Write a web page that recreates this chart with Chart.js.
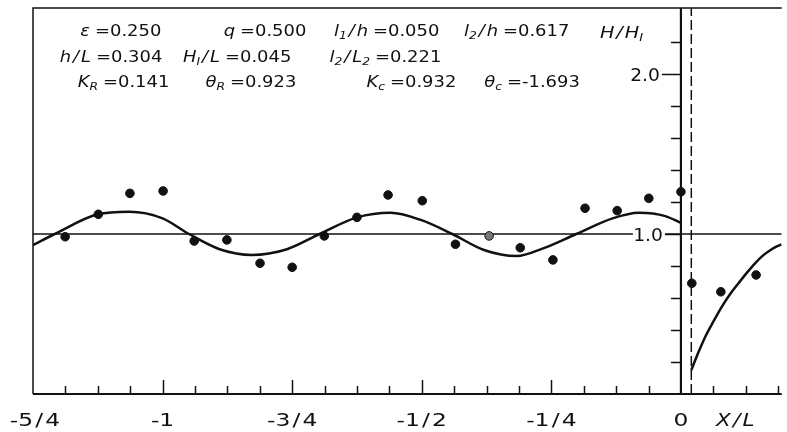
<!DOCTYPE html>
<html>
<head>
<meta charset="utf-8">
<script src="https://cdn.jsdelivr.net/npm/chart.js@4"></script>
<style>
  body { margin: 0; background: #fff; }
</style>
</head>
<body>
<canvas id="myChart" width="787" height="432"></canvas>
<script>
// measured points H/HI vs X/L
const pointX = [-1.188, -1.124, -1.063, -0.999, -0.939, -0.876, -0.812, -0.750, -0.688, -0.625, -0.565, -0.499,
                -0.435, -0.370, -0.310, -0.247, -0.185, -0.123, -0.062, 0.0, 0.021, 0.077, 0.145];
const pointY = [0.983, 1.123, 1.254, 1.269, 0.956, 0.963, 0.817, 0.792, 0.988, 1.104, 1.244, 1.208,
                0.936, 0.988, 0.914, 0.838, 1.161, 1.146, 1.223, 1.264, 0.692, 0.639, 0.744];

// theory curve, reflection side (x <= 0)
const curve1X = [-1.25, -1.208, -1.125, -1.064, -1.0, -0.949, -0.89, -0.828, -0.76, -0.697, -0.625, -0.56,
                 -0.502, -0.441, -0.38, -0.317, -0.266, -0.202, -0.132, -0.081, -0.03, 0.0];
const curve1Y = [0.931, 1.0, 1.123, 1.139, 1.098, 1.0, 0.905, 0.869, 0.905, 1.0, 1.104, 1.133,
                 1.088, 1.0, 0.9, 0.862, 0.91, 1.0, 1.098, 1.133, 1.112, 1.069];

// theory curve, transmission side (x > 0)
const curve2X = [0.02, 0.035, 0.047, 0.063, 0.079, 0.095, 0.111, 0.127, 0.143, 0.158, 0.173, 0.185, 0.194];
const curve2Y = [0.15, 0.27, 0.358, 0.455, 0.546, 0.625, 0.692, 0.757, 0.817, 0.865, 0.9, 0.922, 0.935];

const xMin = -1.25, xMax = 0.1944, yMin = 0, yMax = 2.4125;
const gateX = 0.02;

const xTickValues = [-1.25, -1, -0.75, -0.5, -0.25, 0];
const xTickLabels = ['-5/4', '-1', '-3/4', '-1/2', '-1/4', '0'];
const yTickValues = [1.0, 2.0];
const yTickLabels = ['1.0', '2.0'];

const paramNames = ['ε', 'q', 'l_1/h', 'l_2/h', 'h/L', 'H_I/L', 'l_2/L_2', 'K_R', 'θ_R', 'K_c', 'θ_c'];
const paramValues = ['0.250', '0.500', '0.050', '0.617', '0.304', '0.045', '0.221', '0.141', '0.923', '0.932', '-1.693'];

const toXY = (xs, ys) => xs.map((x, i) => ({x: x, y: ys[i]}));

function runs(str, italic) {
    let out = [];
    for (let i = 0; i < str.length; i++) {
        if (str[i] === '_') { out.push({t: str[i + 1], sub: true, it: italic}); i++; }
        else out.push({t: str[i], sub: false, it: italic});
    }
    return out;
}
// lettering-style text: stretched, spaced slash, small subscripts
function drawRuns(ctx, list, x, y, size, align, sx) {
    const font = r => (r.it ? 'italic ' : '') + (r.sub ? Math.round(size * 0.68) : size) + 'px "DejaVu Sans"';
    let w = 0;
    list.forEach(r => {
        ctx.font = font(r);
        r.w = ctx.measureText(r.t).width * sx;
        r.dx = 0;
        if (r.t === '/') { r.dx = size * 0.12; r.w += size * 0.24; }
        w += r.w;
    });
    let cx = align === 'right' ? x - w : align === 'center' ? x - w / 2 : x;
    list.forEach(r => {
        ctx.font = font(r);
        ctx.save();
        ctx.translate(cx + r.dx, y + (r.sub ? size * 0.2 : 0));
        ctx.scale(sx, 1);
        ctx.fillText(r.t, 0, 0);
        ctx.restore();
        cx += r.w;
    });
    return w;
}

// x of the "=" sign and baseline for each parameter (px)
const paramPos = [[95, 36], [240, 36], [373, 36], [503, 36],
                  [96, 62], [225, 62], [375, 62],
                  [103, 87], [230, 87], [390, 87], [507, 87]];

const frame = {
    id: 'frame',
    afterDatasetsDraw(chart) {
        const ctx = chart.ctx, a = chart.chartArea;
        const xs = chart.scales.x, ys = chart.scales.y;
        ctx.save();
        ctx.strokeStyle = '#111';
        ctx.fillStyle = '#111';
        ctx.lineWidth = 1.5;
        ctx.beginPath();
        ctx.moveTo(a.left, a.bottom); ctx.lineTo(a.left, a.top); ctx.lineTo(a.right, a.top);
        ctx.stroke();
        ctx.lineWidth = 2;
        ctx.beginPath();
        ctx.moveTo(a.left, a.bottom); ctx.lineTo(a.right, a.bottom);
        ctx.stroke();

        // x ticks every 1/16
        ctx.lineWidth = 1.5;
        for (let k = -19; k <= 3; k++) {
            if (k === 0) continue;
            const px = Math.round(xs.getPixelForValue(k / 16)) + 0.5;
            const len = (k % 4 === 0) ? 14 : 8;
            ctx.beginPath(); ctx.moveTo(px, a.bottom); ctx.lineTo(px, a.bottom - len); ctx.stroke();
        }
        // y ticks on the x = 0 line
        const x0 = xs.getPixelForValue(0);
        for (let k = 1; k <= 11; k++) {
            const py = Math.round(ys.getPixelForValue(k * 0.2)) + 0.5;
            const len = (k % 5 === 0) ? 19 : 10;
            ctx.beginPath(); ctx.moveTo(x0, py); ctx.lineTo(x0 - len, py); ctx.stroke();
        }

        ctx.textBaseline = 'alphabetic';
        // x labels
        xTickValues.forEach((v, i) => {
            const px = xs.getPixelForValue(v);
            drawRuns(ctx, runs(xTickLabels[i], false), px + (i === 0 ? 2 : 0), 426, 18, 'center', 1.3);
        });
        drawRuns(ctx, runs('X/L', true), 716, 426, 18, 'left', 1.2);

        // y labels
        yTickValues.forEach((v, i) => {
            const py = ys.getPixelForValue(v);
            const rx = x0 - (v === 1 ? 18 : 21);
            if (v === 1) { ctx.fillStyle = '#fff'; ctx.fillRect(rx - 30, py - 3, 32, 6); ctx.fillStyle = '#111'; }
            drawRuns(ctx, runs(yTickLabels[i], false), rx, py + 7, 17, 'right', 1.1);
        });
        drawRuns(ctx, runs('H/H_I', true), 600, 38, 16, 'left', 1.2);

        // parameters
        paramNames.forEach((n, i) => {
            const p = paramPos[i];
            drawRuns(ctx, runs(n, true), p[0] - 5, p[1], 16, 'right', 1.12);
            drawRuns(ctx, runs('=' + paramValues[i], false), p[0], p[1], 16, 'left', 1.12);
        });
        ctx.restore();
    }
};

let myChart = document.getElementById('myChart').getContext('2d');
let chart = new Chart(myChart, {
    type: 'scatter',
    data: {
        datasets: [{
            label: 'measured',
            data: toXY(pointX, pointY),
            pointRadius: 4.3,
            pointBorderWidth: 1,
            pointBorderColor: '#111',
            pointBackgroundColor: ctx => ctx.dataIndex === 13 ? '#777' : '#111',
            showLine: false
        }, {
            label: 'theory, x<0',
            data: toXY(curve1X, curve1Y),
            showLine: true,
            borderColor: '#111',
            borderWidth: 2.5,
            pointRadius: 0,
            cubicInterpolationMode: 'monotone'
        }, {
            label: 'theory, x>0',
            data: toXY(curve2X, curve2Y),
            showLine: true,
            borderColor: '#111',
            borderWidth: 2.5,
            pointRadius: 0,
            cubicInterpolationMode: 'monotone'
        }, {
            label: 'H/HI = 1',
            data: [{x: xMin, y: 1}, {x: xMax, y: 1}],
            showLine: true,
            borderColor: '#111',
            borderWidth: 1.5,
            pointRadius: 0
        }, {
            label: 'x = 0',
            data: [{x: 0, y: yMin}, {x: 0, y: yMax}],
            showLine: true,
            borderColor: '#111',
            borderWidth: 2.2,
            pointRadius: 0
        }, {
            label: 'gate',
            data: [{x: gateX, y: yMin}, {x: gateX, y: yMax}],
            showLine: true,
            borderColor: '#111',
            borderWidth: 1.5,
            borderDash: [10, 4],
            pointRadius: 0
        }]
    },
    options: {
        responsive: false,
        animation: false,
        layout: { padding: { left: 33, top: 8, right: 0, bottom: 38 } },
        plugins: { legend: { display: false }, tooltip: { enabled: false } },
        scales: {
            x: { type: 'linear', min: xMin, max: xMax, display: false },
            y: { type: 'linear', min: yMin, max: yMax, display: false }
        }
    },
    plugins: [frame]
});
</script>
</body>
</html>
